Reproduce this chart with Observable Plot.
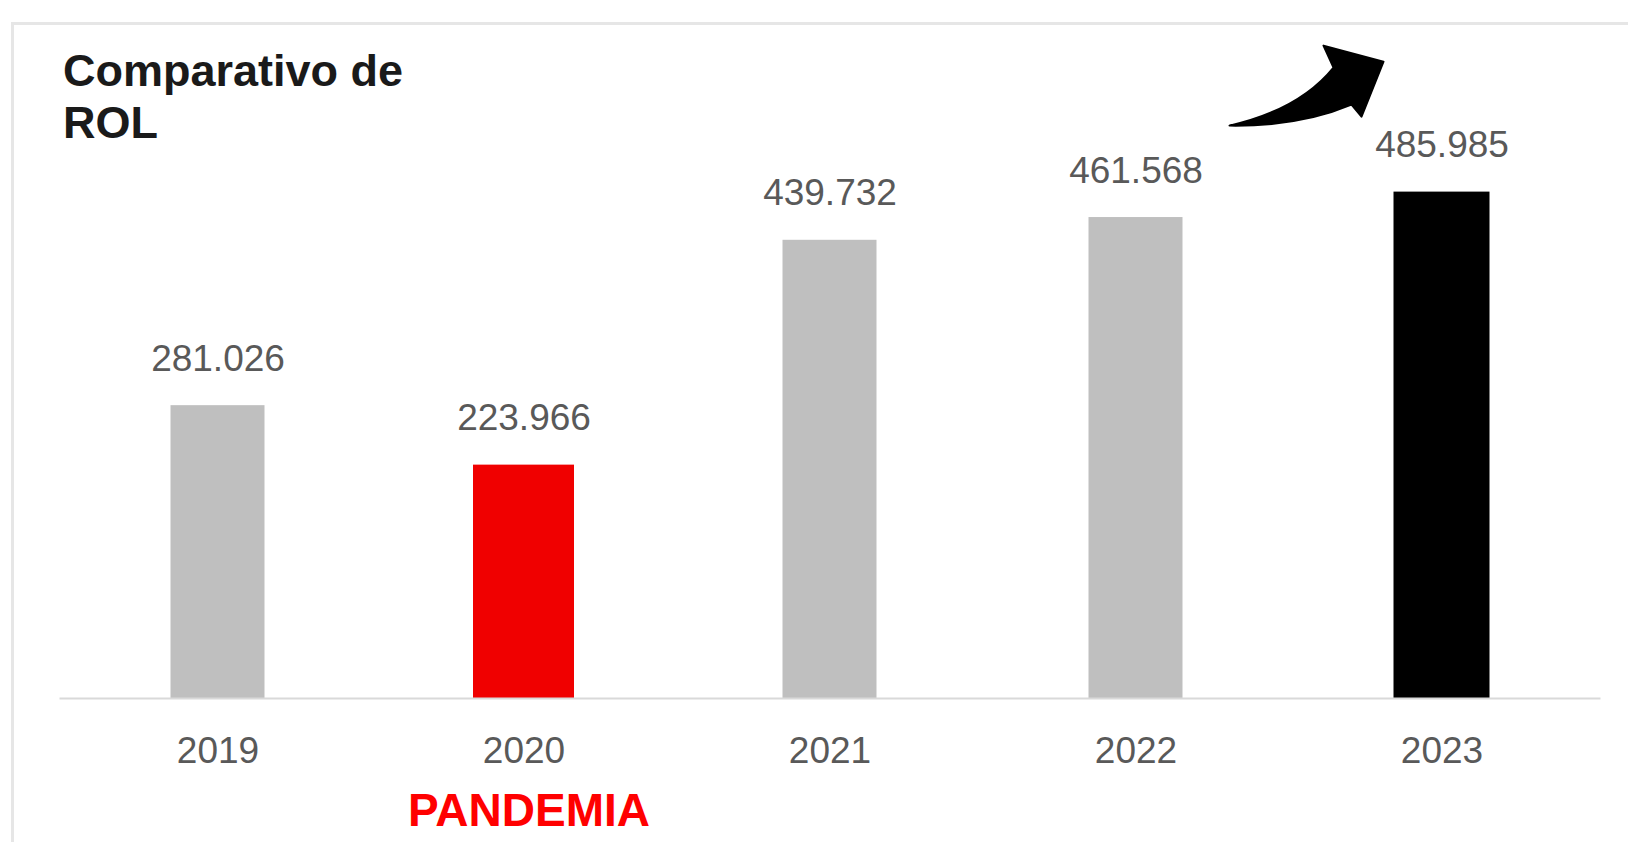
<!DOCTYPE html>
<html><head><meta charset="utf-8">
<script src="https://cdn.jsdelivr.net/npm/d3@7"></script>
<script src="https://cdn.jsdelivr.net/npm/@observablehq/plot@0.6"></script>
<style>
html,body{margin:0;padding:0;background:#fff;}
#wrap{position:relative;width:1628px;height:842px;overflow:hidden;background:#fff;}
#frame{position:absolute;left:11px;top:22px;right:-10px;bottom:-10px;border-left:3px solid #e6e6e6;border-top:3px solid #e6e6e6;}
#chart{position:absolute;left:0;top:0;}
.title{position:absolute;left:63px;font-family:"Liberation Sans",Arial,sans-serif;font-weight:bold;font-size:45px;line-height:52px;height:52px;color:#1a1a1a;white-space:nowrap;}
</style></head>
<body>
<div id="wrap"><div id="frame"></div><div id="chart"></div>
<div class="title" style="top:45px">Comparativo de</div>
<div class="title" style="top:97px">ROL</div>
</div>
<script>
// ---- data ----
const years = ["2019", "2020", "2021", "2022", "2023"];
const rol = [281026, 223966, 439732, 461568, 485985];
const highlight = ["base", "pandemia", "base", "base", "atual"];
const noteYear = "2020";
const noteText = "PANDEMIA";
const arrowTo = "2023";

const table = years.map((y, i) => ({year: y, value: rol[i], kind: highlight[i]}));
const fmt = d3.formatLocale({decimal: ",", thousands: ".", grouping: [3], currency: ["R$", ""]}).format(",");
const font = "Liberation Sans, Arial, sans-serif";

// curved "growth" arrow annotation, anchored on the 2023 bar through the plot scales
const arrowMark = (index, scales) => {
  const x = scales.x, y = scales.y;
  const cx = x(arrowTo) + x.bandwidth() / 2;
  const cy = y(rol[years.indexOf(arrowTo)]);
  const p = (dx, dy) => `${cx + dx},${cy + dy}`;
  const d = `M${p(-212,-66)} Q${p(-142,-82)} ${p(-108,-124)} L${p(-118,-146)} L${p(-58,-130)} L${p(-80,-75)} L${p(-90,-87)} Q${p(-142,-65)} ${p(-212,-66)} Z`;
  const g = d3.create("svg:g");
  g.append("path").attr("d", d).attr("fill", "#000").attr("stroke", "#000").attr("stroke-width", 2).attr("stroke-linejoin", "round");
  return g.node();
};

const chart = Plot.plot({
  width: 1628,
  height: 842,
  marginLeft: 62.5,
  marginRight: 32.5,
  marginTop: 177,
  marginBottom: 144,
  style: {fontFamily: font, background: "transparent", overflow: "visible"},
  x: {domain: years, padding: 0.69, paddingOuter: 0.345, axis: null, label: null},
  y: {domain: [0, 500000], axis: null},
  marks: [
    Plot.barY(table.filter(d => d.kind === "base"), {x: "year", y: "value", fill: "#bfbfbf", insetLeft: 0.5, insetRight: 0.5}),
    Plot.barY(table.filter(d => d.kind === "pandemia"), {x: "year", y: "value", fill: "#f00000", insetLeft: -3, insetRight: -3}),
    Plot.barY(table.filter(d => d.kind === "atual"), {x: "year", y: "value", fill: "#000000", insetLeft: -0.5, insetRight: -0.5}),
    Plot.ruleY([0], {stroke: "#d9d9d9", strokeWidth: 2, insetLeft: -3, insetRight: -5}),
    Plot.axisX({tickSize: 0, tickPadding: 38, fontSize: 37, color: "#595959", fontFamily: font, label: null}),
    Plot.text(table, {x: "year", y: "value", text: d => fmt(d.value), lineAnchor: "bottom", dy: -35, fontSize: 37, fill: "#595959", fontFamily: font}),
    Plot.text([noteYear], {x: d => d, y: () => 0, text: () => noteText, lineAnchor: "bottom", dy: 127, dx: 5, fontSize: 46, fontWeight: "bold", fill: "#ff0000", fontFamily: font}),
    arrowMark
  ]
});
document.getElementById("chart").appendChild(chart);
</script>
</body></html>
